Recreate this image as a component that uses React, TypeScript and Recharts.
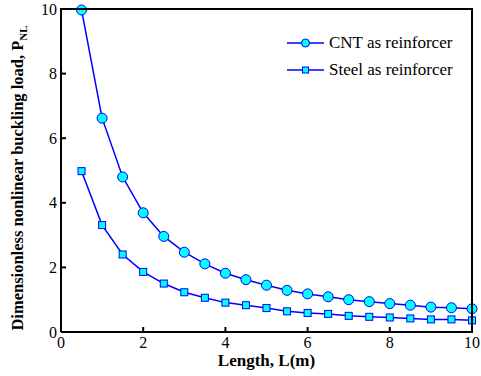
import { LineChart, Line, XAxis, YAxis, Label } from 'recharts'

const lengths = [0.5, 1, 1.5, 2, 2.5, 3, 3.5, 4, 4.5, 5, 5.5, 6, 6.5, 7, 7.5, 8, 8.5, 9, 9.5, 10]
const cntLoad = [9.97, 6.62, 4.8, 3.69, 2.96, 2.47, 2.11, 1.82, 1.62, 1.45, 1.29, 1.18, 1.09, 1.0, 0.94, 0.88, 0.83, 0.77, 0.75, 0.72]
const steelLoad = [4.98, 3.31, 2.4, 1.86, 1.5, 1.23, 1.06, 0.91, 0.83, 0.74, 0.64, 0.59, 0.56, 0.5, 0.47, 0.45, 0.42, 0.39, 0.39, 0.36]
const xTicks = [0, 2, 4, 6, 8, 10]
const yTicks = [0, 2, 4, 6, 8, 10]
const seriesNames = ['CNT as reinforcer', 'Steel as reinforcer']

const data = lengths.map((L, i) => ({ L, cnt: cntLoad[i], steel: steelLoad[i] }))

const BLUE = '#0000ff'
const CYAN = '#00ffff'
const FONT = '"Liberation Serif", "Times New Roman", serif'

const W = 481
const H = 376
const MARGIN = { top: 9, right: 9, bottom: 0, left: 0 }
const X_AXIS_H = 44
const Y_AXIS_W = 61

const tickStyle = { fill: '#000', fontFamily: FONT, fontSize: 16 }

// square marker for the steel series
const SquareDot = (props: any) => {
  const { cx, cy } = props
  if (cx == null || cy == null) return null
  return <rect x={cx - 3.5} y={cy - 3.5} width={7} height={7} fill={CYAN} stroke={BLUE} strokeWidth={1} />
}

const LegendBox = () => (
  <div style={{ position: 'absolute', left: 286, top: 29, fontFamily: FONT, fontSize: 17, color: '#000' }}>
    {seriesNames.map((name, i) => (
      <div key={name} style={{ display: 'flex', alignItems: 'center', height: 27 }}>
        <svg width={40} height={12} style={{ marginRight: 3 }}>
          <line x1={1} y1={6} x2={38} y2={6} stroke={BLUE} strokeWidth={1.5} />
          {i === 0 ? (
            <circle cx={19.5} cy={6} r={4} fill={CYAN} stroke={BLUE} />
          ) : (
            <rect x={16.5} y={3} width={6} height={6} fill={CYAN} stroke={BLUE} />
          )}
        </svg>
        <span>{name}</span>
      </div>
    ))}
  </div>
)

// top and right sides of the box, laid over the plot area
const FrameBox = () => (
  <div
    style={{
      position: 'absolute',
      left: MARGIN.left + Y_AXIS_W - 1,
      top: MARGIN.top - 1,
      width: W - MARGIN.left - MARGIN.right - Y_AXIS_W + 2,
      height: H - MARGIN.top - MARGIN.bottom - X_AXIS_H + 2,
      borderTop: '2px solid #000',
      borderRight: '2px solid #000',
      boxSizing: 'border-box',
      pointerEvents: 'none',
    }}
  />
)

export default function App() {
  return (
    <div style={{ position: 'absolute', left: 0, top: 0, width: W, height: H, background: '#fff' }}>
      <LineChart width={W} height={H} data={data} margin={MARGIN}>
        <XAxis
          dataKey="L"
          type="number"
          domain={[0, 10]}
          ticks={xTicks}
          height={X_AXIS_H}
          stroke="#000"
          strokeWidth={2}
          tickSize={-5}
          tickMargin={10}
          tick={tickStyle}
        >
          <Label
            content={(props: any) => {
              const vb = props.viewBox
              return (
                <text
                  x={vb.x + vb.width / 2}
                  y={366}
                  textAnchor="middle"
                  fontFamily={FONT}
                  fontWeight="bold"
                  fontSize={17}
                  fill="#000"
                >
                  Length, L(m)
                </text>
              )
            }}
          />
        </XAxis>
        <YAxis
          type="number"
          domain={[0, 10]}
          ticks={yTicks}
          width={Y_AXIS_W}
          stroke="#000"
          strokeWidth={2}
          tickSize={-5}
          tickMargin={9}
          tick={tickStyle}
        >
          <Label
            content={() => (
              <text
                x={23}
                y={178}
                transform="rotate(-90, 23, 178)"
                textAnchor="middle"
                fontFamily={FONT}
                fontWeight="bold"
                fontSize={16.5}
                fill="#000"
              >
                Dimensionless nonlinear buckling load, P
                <tspan dy={4} fontSize={11}>NL</tspan>
              </text>
            )}
          />
        </YAxis>
        <Line
          type="linear"
          dataKey="cnt"
          name={seriesNames[0]}
          stroke={BLUE}
          strokeWidth={1.5}
          dot={{ r: 5, fill: CYAN, stroke: BLUE, strokeWidth: 1 }}
          isAnimationActive={false}
        />
        <Line
          type="linear"
          dataKey="steel"
          name={seriesNames[1]}
          stroke={BLUE}
          strokeWidth={1.5}
          dot={<SquareDot />}
          isAnimationActive={false}
        />
      </LineChart>
      <FrameBox />
      <LegendBox />
    </div>
  )
}
